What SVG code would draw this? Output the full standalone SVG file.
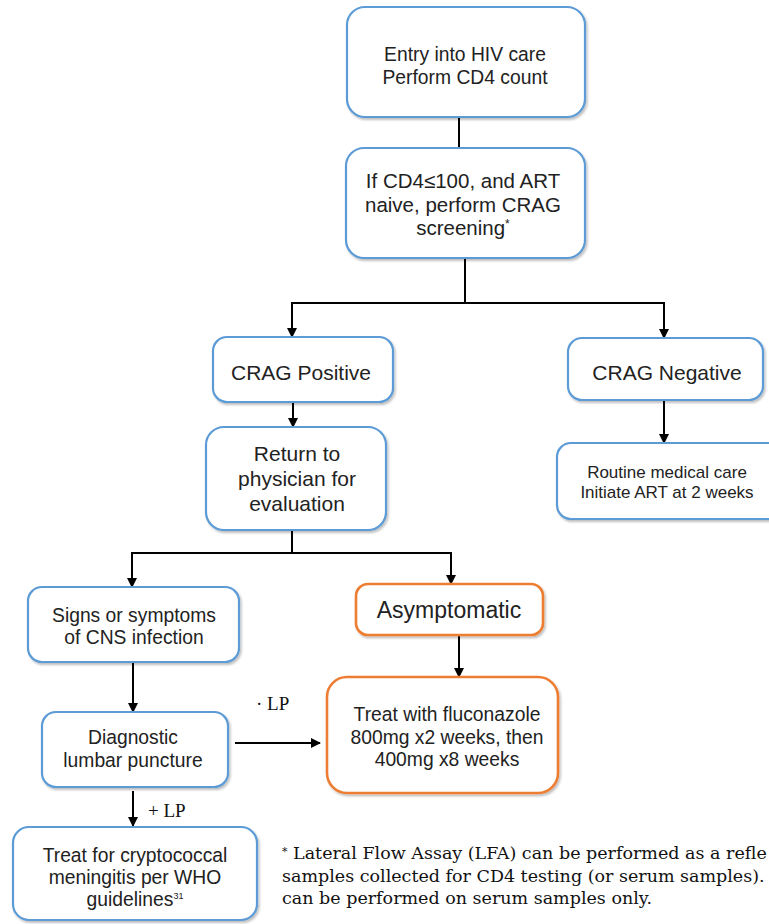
<svg xmlns="http://www.w3.org/2000/svg" width="769" height="924" viewBox="0 0 769 924">
<defs>
<marker id="ah" markerWidth="10" markerHeight="10" refX="9" refY="5" orient="auto" markerUnits="userSpaceOnUse">
<path d="M0,0 L10,5 L0,10 Z" fill="#000"/>
</marker>
<filter id="sh" x="-5%" y="-5%" width="115%" height="120%">
<feDropShadow dx="1.5" dy="2" stdDeviation="1.2" flood-color="#000" flood-opacity="0.25"/>
</filter>
</defs>
<style>
.b{fill:#fff;stroke:#5B9BD5;stroke-width:2.2;filter:url(#sh)}
.o{fill:#fff;stroke:#ED7D31;stroke-width:2.6;filter:url(#sh)}
.t{font-family:"Liberation Sans",Arial,sans-serif;font-size:19.3px;fill:#222;text-anchor:middle}
.s{font-family:"Liberation Sans",Arial,sans-serif;font-size:17px;fill:#222;text-anchor:middle}
.c{stroke:#000;stroke-width:2;fill:none}
.a{stroke:#000;stroke-width:2;fill:none;marker-end:url(#ah)}
.lp{font-family:"Liberation Serif","Times New Roman",serif;font-size:19px;fill:#111}
.fn{font-family:"DejaVu Serif",serif;font-size:17.5px;fill:#111}
</style>
<g id="connectors">
<line class="c" x1="459" y1="117" x2="459" y2="148"/>
<line class="c" x1="465" y1="258" x2="465" y2="303"/>
<line class="c" x1="291" y1="303" x2="665" y2="303"/>
<line class="a" x1="292" y1="303" x2="292" y2="337"/>
<line class="a" x1="664" y1="303" x2="664" y2="338"/>
<line class="a" x1="293" y1="402" x2="293" y2="427"/>
<line class="a" x1="664" y1="400" x2="664" y2="443"/>
<line class="c" x1="292" y1="530" x2="292" y2="553"/>
<line class="c" x1="131" y1="553" x2="452" y2="553"/>
<line class="a" x1="132" y1="553" x2="132" y2="587"/>
<line class="a" x1="451" y1="553" x2="451" y2="584"/>
<line class="a" x1="133" y1="662" x2="133" y2="712"/>
<line class="a" x1="459" y1="635" x2="459" y2="677"/>
<line class="a" x1="235" y1="743" x2="320" y2="743"/>
<line class="a" x1="133" y1="791" x2="133" y2="826"/>
</g>
<g id="n1"><rect class="b" x="347" y="7" width="238" height="110" rx="18"/>
<text class="t" x="465" y="61">Entry into HIV care</text>
<text class="t" x="465" y="84">Perform CD4 count</text></g>
<g id="n2"><rect class="b" x="346" y="148" width="239" height="110" rx="18"/>
<text class="t" x="463" y="188" style="font-size:20.5px">If CD4≤100, and ART</text>
<text class="t" x="463" y="212" style="font-size:20.5px">naive, perform CRAG</text>
<text class="t" x="463" y="235" style="font-size:20.5px">screening<tspan font-size="12" dy="-7">*</tspan></text></g>
<g id="n3"><rect class="b" x="213" y="337" width="180" height="65" rx="14"/>
<text class="t" x="301" y="380" style="font-size:21px">CRAG Positive</text></g>
<g id="n4"><rect class="b" x="568" y="338" width="195" height="62" rx="14"/>
<text class="t" x="667" y="380" style="font-size:21px">CRAG Negative</text></g>
<g id="n5"><rect class="b" x="206" y="427" width="180" height="103" rx="18"/>
<text class="t" x="297" y="461" style="font-size:21px">Return to</text>
<text class="t" x="297" y="486" style="font-size:21px">physician for</text>
<text class="t" x="297" y="511" style="font-size:21px">evaluation</text></g>
<g id="n6"><rect class="b" x="557" y="443" width="230" height="76" rx="14"/>
<text class="s" x="667" y="478">Routine medical care</text>
<text class="s" x="667" y="498">Initiate ART at 2 weeks</text></g>
<g id="n7"><rect class="b" x="28" y="587" width="211" height="75" rx="14"/>
<text class="t" x="134" y="622">Signs or symptoms</text>
<text class="t" x="134" y="644">of CNS infection</text></g>
<g id="n8"><rect class="o" x="356" y="584" width="187" height="51" rx="12"/>
<text class="t" x="449" y="618" style="font-size:23px">Asymptomatic</text></g>
<g id="n9"><rect class="o" x="327" y="677" width="231" height="116" rx="20"/>
<text class="t" x="447" y="721">Treat with fluconazole</text>
<text class="t" x="447" y="744">800mg x2 weeks, then</text>
<text class="t" x="447" y="766">400mg x8 weeks</text></g>
<g id="n10"><rect class="b" x="42" y="712" width="186" height="75" rx="14"/>
<text class="t" x="133" y="744">Diagnostic</text>
<text class="t" x="133" y="767">lumbar puncture</text></g>
<g id="n11"><rect class="b" x="13" y="827" width="244" height="93" rx="16"/>
<text class="t" x="135" y="862">Treat for cryptococcal</text>
<text class="t" x="135" y="884">meningitis per WHO</text>
<text class="t" x="135" y="906">guidelines<tspan font-size="9" dy="-7">31</tspan></text></g>
<g id="labels">
<text class="lp" x="256" y="710">· LP</text>
<text class="lp" x="148" y="817">+ LP</text>
</g>
<g id="footnote">
<text class="fn" x="282" y="859"><tspan font-size="11" dy="-4">*</tspan><tspan dy="4"> Lateral Flow Assay (LFA) can be performed as a refle</tspan></text>
<text class="fn" x="282" y="882">samples collected for CD4 testing (or serum samples).</text>
<text class="fn" x="282" y="904">can be performed on serum samples only.</text>
</g>
</svg>
